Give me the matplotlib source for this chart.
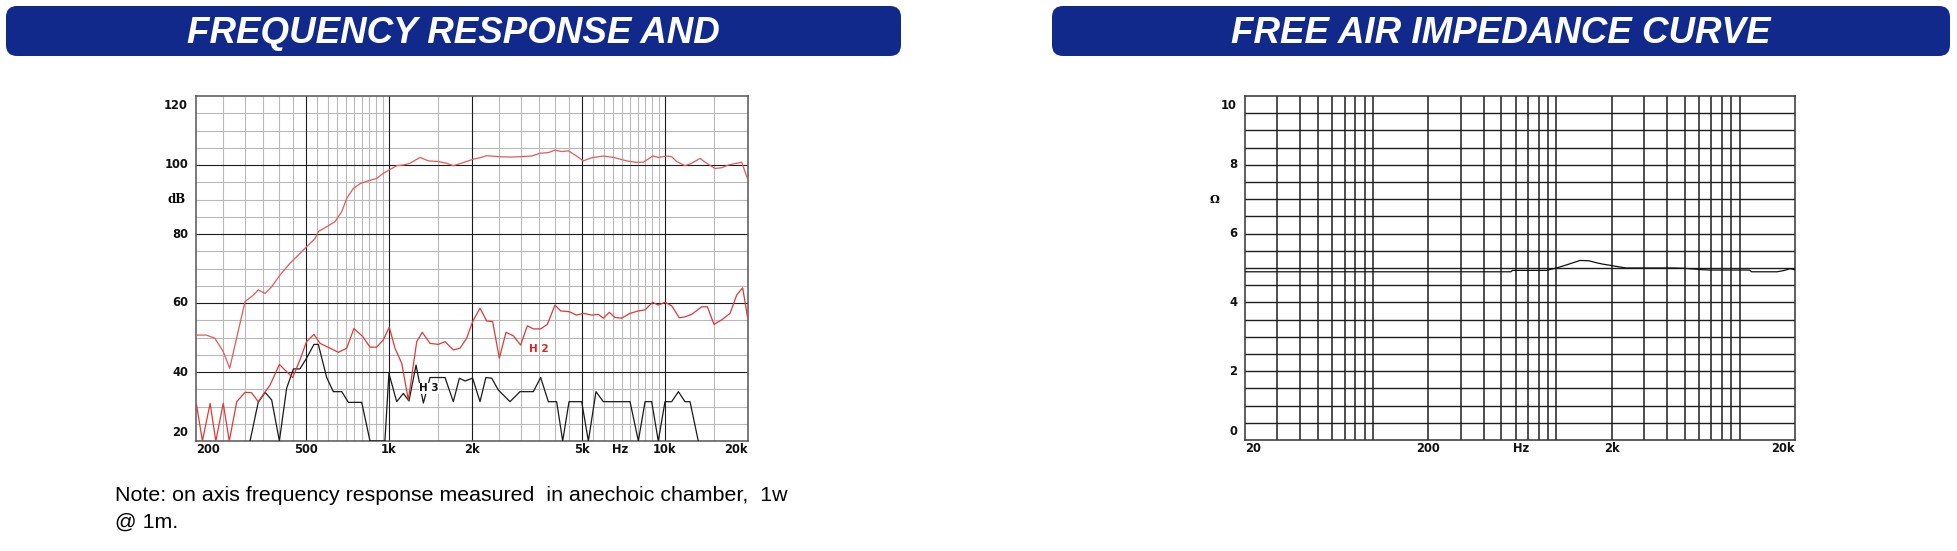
import numpy as np
import matplotlib
matplotlib.use("Agg")
import matplotlib.pyplot as plt
from matplotlib.patches import FancyBboxPatch
from matplotlib.transforms import offset_copy

# ---- values ----
# on-axis SPL (dB) vs frequency (Hz)
spl_freq = [201, 218, 234, 251, 265, 301, 323, 336, 356, 376, 403, 438, 470, 503,
            540, 555, 595, 638, 675, 703, 743, 790, 842, 903, 954, 1000, 1067, 1128,
            1192, 1296, 1389, 1510, 1619, 1711, 1860, 2022, 2138, 2260, 2525, 2745,
            2985, 3290, 3527, 3782, 3997, 4226, 4467, 4723, 5063, 5428, 5983, 6502,
            7268, 7792, 8353, 9028, 9463, 10146, 10580, 11030, 11824, 12500, 13400,
            14170, 15190, 16060, 16980, 18200, 18980, 19900]
spl_db = [50.7, 50.7, 49.8, 45.9, 41.1, 60.4, 62.3, 63.8, 62.8, 64.7, 68.1, 71.5, 73.9,
          76.3, 78.7, 80.7, 82.1, 83.6, 86.5, 90.3, 93.2, 94.7, 95.4, 96.1, 97.6, 98.5,
          99.8, 100.0, 100.5, 102.2, 101.2, 101.0, 100.5, 99.8, 100.7, 101.7, 102.1,
          102.7, 102.4, 102.3, 102.4, 102.6, 103.4, 103.6, 104.3, 103.9, 104.1, 102.9,
          101.2, 102.1, 102.6, 102.2, 101.2, 100.8, 100.8, 102.6, 102.2, 102.6, 102.4,
          101.0, 99.8, 100.5, 101.9, 100.5, 99.0, 99.2, 100.0, 100.5, 100.8, 96.1]

# 2nd harmonic distortion
h2_freq = [201, 211, 225, 236, 251, 264, 281, 301, 318, 336, 371, 401, 426, 448, 476,
           503, 535, 563, 612, 656, 703, 747, 803, 854, 903, 954, 1003, 1052, 1113,
           1176, 1261, 1321, 1409, 1510, 1597, 1711, 1810, 1913, 2011, 2138, 2260,
           2376, 2512, 2656, 2823, 3001, 3173, 3337, 3546, 3749, 3997, 4191, 4493,
           4789, 5063, 5428, 5740, 5983, 6290, 6593, 6971, 7475, 8012, 8472, 9028,
           9463, 10006, 10580, 11280, 11824, 12500, 13590, 14250, 15060, 16060, 17220,
           18200, 19130, 19950]
h2_db = [30.4, 20.0, 30.9, 20.0, 30.9, 20.0, 31.4, 34.1, 34.0, 31.4, 36.2, 42.2, 40.1,
         38.4, 43.5, 48.8, 50.9, 48.3, 46.9, 45.7, 46.9, 52.6, 50.3, 47.2, 47.2, 49.3,
         53.0, 46.9, 42.5, 31.9, 48.8, 51.5, 48.3, 48.0, 48.8, 46.4, 46.9, 49.8, 54.6,
         58.5, 54.8, 54.6, 44.0, 51.5, 50.5, 47.8, 53.4, 52.5, 52.5, 53.8, 59.4, 57.7,
         57.5, 56.5, 57.0, 56.5, 56.7, 55.6, 57.3, 55.8, 55.6, 57.0, 57.7, 58.0, 60.2,
         59.4, 60.2, 59.2, 55.7, 56.0, 56.7, 58.9, 58.9, 53.8, 55.1, 57.0, 62.3, 64.4,
         55.6]

# 3rd harmonic distortion
h3_freq = [314, 336, 356, 376, 401, 426, 451, 476, 503, 535, 555, 595, 629, 675, 713,
           797, 854, 967, 1000, 1067, 1128, 1182, 1254, 1333, 1409, 1597, 1711, 1800,
           1887, 2011, 2138, 2246, 2357, 2491, 2745, 2985, 3337, 3546, 3782, 4053,
           4262, 4493, 4994, 5280, 5626, 5983, 7475, 8012, 8472, 8954, 9463, 10006,
           10580, 11190, 11824, 12330, 13210]
h3_db = [20.0, 31.2, 34.1, 31.9, 20.0, 35.3, 40.9, 40.9, 44.0, 48.0, 48.0, 38.4, 34.3,
         34.3, 31.2, 31.2, 20.0, 20.0, 39.6, 31.4, 33.8, 31.6, 42.0, 31.0, 38.4, 38.4,
         31.4, 38.2, 37.4, 38.2, 31.4, 38.4, 38.2, 34.8, 31.4, 34.3, 34.3, 38.4, 31.4,
         31.4, 20.0, 31.4, 31.4, 20.0, 34.3, 31.4, 31.4, 20.0, 31.4, 31.4, 20.0, 31.4,
         31.4, 34.3, 31.4, 31.4, 20.0]

# free air impedance (ohm)
imp_freq = [20, 100, 300, 565, 575, 880, 1000, 1150, 1345, 1500, 1660, 1800, 1960,
            2100, 2400, 3800, 4400, 5000, 5600, 6300, 6900, 11300, 11600, 16000, 17500,
            18800, 20000]
imp_ohm = [4.89, 4.89, 4.89, 4.89, 4.93, 4.93, 5.0, 5.1, 5.22, 5.21, 5.15, 5.11, 5.08,
           5.05, 5.0, 5.0, 5.0, 4.99, 4.97, 4.95, 4.94, 4.94, 4.89, 4.89, 4.93, 4.98, 4.95]

fr_tick_freq = [200, 500, 1000, 2000, 5000, 6900, 10000, 20000]
fr_tick_text = ["200", "500", "1k", "2k", "5k", "Hz", "10k", "20k"]
fr_ytick = [120, 100, 80, 60, 40, 20]

imp_tick_freq = [20, 200, 640, 2000, 20000]
imp_tick_text = ["20", "200", "Hz", "2k", "20k"]
imp_ytick = [10, 8, 6, 4, 2, 0]

BLUE = "#12298c"
W, H = 1957, 551

fig = plt.figure(figsize=(W / 100, H / 100), dpi=100)

# background layer in pixel coordinates for banners and note
bg = fig.add_axes([0, 0, 1, 1])
bg.set_xlim(0, W)
bg.set_ylim(H, 0)
bg.axis("off")
for x0, x1, title in [(6, 901, "FREQUENCY RESPONSE AND"),
                      (1052, 1950, "FREE AIR IMPEDANCE CURVE")]:
    bg.add_patch(FancyBboxPatch((x0, 6), x1 - x0, 50,
                                boxstyle="round,pad=0,rounding_size=11",
                                fc=BLUE, ec="none"))
    bg.text((x0 + x1) / 2, 43, title, ha="center", va="baseline", color="white",
            fontsize=26.5, fontweight="bold", fontstyle="italic",
            family="Liberation Sans")
bg.text(115, 501, "Note: on axis frequency response measured  in anechoic chamber,  1w",
        ha="left", va="baseline", fontsize=15.4, family="Liberation Sans")
bg.text(115, 528, "@ 1m.", ha="left", va="baseline", fontsize=15.4,
        family="Liberation Sans")


def pix_axes(x0, y0, x1, y1):
    return fig.add_axes([x0 / W, 1 - y1 / H, (x1 - x0) / W, (y1 - y0) / H])


lab_kw = dict(fontsize=8.3, fontweight="bold", family="DejaVu Sans", color="#111")


def tick_labels(ax, xt, xtxt, yt, ymin, ymax):
    xtr = offset_copy(ax.get_xaxis_transform(), fig=fig, x=0, y=-2, units="dots")
    for f, s in zip(xt, xtxt):
        ha = "center"
        if f == xt[0]:
            ha = "left"
        elif f == xt[-1]:
            ha = "right"
        ax.text(f, 0, s, transform=xtr, ha=ha, va="top", **lab_kw)
    for v in yt:
        if v == ymax:
            tr = offset_copy(ax.get_yaxis_transform(), fig=fig, x=-8, y=-3, units="dots")
            va = "top"
        elif v == ymin:
            tr = offset_copy(ax.get_yaxis_transform(), fig=fig, x=-8, y=2, units="dots")
            va = "bottom"
        else:
            tr = offset_copy(ax.get_yaxis_transform(), fig=fig, x=-8, y=0, units="dots")
            va = "center"
        ax.text(0, v, str(v), transform=tr, ha="right", va=va, **lab_kw)


# ---------------- frequency response ----------------
ax = pix_axes(196, 96, 748, 441)
ax.set_xscale("log")
ax.set_xlim(200, 20000)
ax.set_ylim(20, 120)

minor_x = list(range(250, 1000, 50)) + list(range(1500, 10000, 500)) + [15000]
major_x = [500, 1000, 2000, 5000, 10000]
for f in minor_x:
    if f not in major_x:
        ax.axvline(f, color="#b9b9b9", lw=0.8, zorder=1)
for f in major_x:
    ax.axvline(f, color="#1c1c1c", lw=0.8, zorder=2)
for v in range(25, 120, 5):
    if v % 20:
        ax.axhline(v, color="#b9b9b9", lw=0.8, zorder=1)
for v in [40, 60, 80, 100]:
    ax.axhline(v, color="#1c1c1c", lw=0.8, zorder=2)

ax.plot(spl_freq, spl_db, color="#e35a58", lw=0.9, zorder=4)
ax.plot(h2_freq, h2_db, color="#dc3a38", lw=0.9, zorder=4)
ax.plot(h3_freq, h3_db, color="#1a1a1a", lw=0.9, zorder=3)
ax.text(3478, 46.7, "H 2", color="#dd2222", ha="center", va="center",
        fontsize=7.5, fontweight="bold", zorder=5)
ax.text(1400, 35.3, "H 3", color="#111", ha="center", va="center",
        fontsize=7.5, fontweight="bold", zorder=5,
        bbox=dict(fc="white", ec="none", pad=0.3))

ax.set_xticks([])
ax.set_yticks([])
ax.minorticks_off()
for s in ax.spines.values():
    s.set_color("#555")
    s.set_linewidth(1.1)
tick_labels(ax, fr_tick_freq, fr_tick_text, fr_ytick, 20, 120)
ax.text(-0.036, 90, "dB", transform=ax.get_yaxis_transform(), ha="center",
        va="center", fontsize=8.5, fontweight="bold", family="DejaVu Serif")

# ---------------- impedance ----------------
ax2 = pix_axes(1245, 96, 1795, 440)
ax2.set_xscale("log")
ax2.set_xlim(20, 20000)
ax2.set_ylim(0, 10)
grid_x = [m * 10 ** e for e in (1, 2, 3) for m in range(2, 11)]
for f in grid_x:
    if 20 < f < 20000:
        ax2.axvline(f, color="#1e1e1e", lw=1.1, zorder=1)
for v in np.arange(0.5, 10, 0.5):
    ax2.axhline(v, color="#1e1e1e", lw=1.0, zorder=1)
ax2.plot(imp_freq, imp_ohm, color="#111", lw=0.9, zorder=3)
ax2.set_xticks([])
ax2.set_yticks([])
ax2.minorticks_off()
for s in ax2.spines.values():
    s.set_color("#333")
    s.set_linewidth(1.1)
tick_labels(ax2, imp_tick_freq, imp_tick_text, imp_ytick, 0, 10)
ax2.text(-0.056, 7, "\u03a9", transform=ax2.get_yaxis_transform(), ha="center",
         va="center", fontsize=8, fontweight="bold", family="DejaVu Serif")

fig.savefig("out.png", dpi=100)
